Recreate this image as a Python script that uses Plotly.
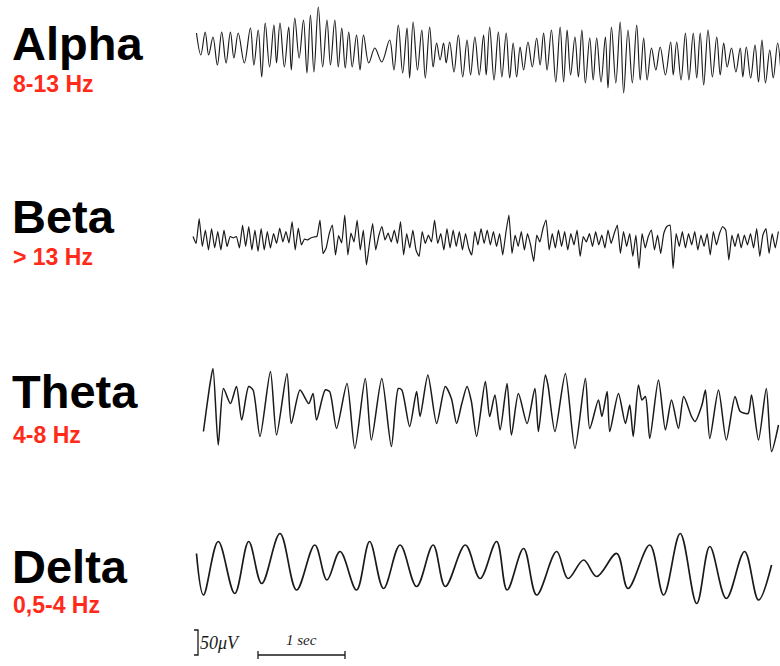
import plotly.graph_objects as go

W, H = 780, 666
X0_PX = 187          # left edge of the trace area
T0_PX = 193          # pixel where t = 0
PX_PER_SEC = 87.0
UV_PER_PX = 2.0

labels = ["Alpha", "Beta", "Theta", "Delta"]
bands = ["8-13 Hz", "> 13 Hz", "4-8 Hz", "0,5-4 Hz"]

# ---------------- Alpha (peaks / troughs, seconds & µV) ----------------
alpha_peak_t = [0.04, 0.14, 0.23, 0.33, 0.43, 0.52, 0.66, 0.75, 0.83, 0.93, 1.00, 1.10, 1.17, 1.27, 1.35, 1.44,
                1.54, 1.63, 1.71, 1.79, 1.88, 1.96, 2.09,
                2.26, 2.36, 2.46, 2.53, 2.63, 2.72, 2.80, 2.88, 2.95, 3.05, 3.15, 3.24, 3.34, 3.41, 3.51, 3.60,
                3.68, 3.76, 3.85, 3.95, 4.03, 4.12, 4.22, 4.30, 4.39, 4.47,
                4.56, 4.64, 4.74, 4.81, 4.91, 5.00, 5.10, 5.18, 5.27, 5.37, 5.49, 5.56, 5.66, 5.75, 5.83, 5.92,
                6.02, 6.10, 6.19, 6.29, 6.36, 6.46, 6.54, 6.63, 6.72]
alpha_peak_uv = [38, 40, 30, 40, 40, 38, 48, 44, 58, 54, 58, 50, 68, 64, 74, 90,
                 64, 64, 48, 40, 34, 34, 8,
                 24, 54, 48, 60, 44, 50, 18, 18, 20, 34, 24, 30, 34, 50, 40, 38,
                 18, 10, 20, 28, 38, 44, 50, 44, 30, 44,
                 28, 28, 30, 50, 60, 44, 54, 28, 8, 10, 20, 20, 38, 38, 38, 44,
                 30, 18, 8, 8, 10, 14, 24, 4, 18]
alpha_trough_t = [0.09, 0.18, 0.28, 0.38, 0.47, 0.59, 0.70, 0.79, 0.88, 0.96, 1.05, 1.13, 1.22, 1.31, 1.39, 1.49,
                  1.58, 1.67, 1.75, 1.83, 1.92, 2.02, 2.17,
                  2.31, 2.41, 2.49, 2.58, 2.67, 2.76, 2.84, 2.91, 3.00, 3.10, 3.19, 3.29, 3.37, 3.46, 3.55, 3.64,
                  3.72, 3.80, 3.90, 3.99, 4.07, 4.17, 4.26, 4.34, 4.43, 4.51,
                  4.60, 4.69, 4.77, 4.86, 4.95, 5.05, 5.14, 5.22, 5.32, 5.43, 5.52, 5.61, 5.70, 5.79, 5.87, 5.97,
                  6.06, 6.14, 6.24, 6.32, 6.41, 6.50, 6.58, 6.67, 6.76]
alpha_trough_uv = [-6, -6, -26, -22, -12, -22, -26, -50, -30, -22, -30, -36, -12, -42, -40, -30,
                   -26, -30, -32, -30, -36, -22, -20,
                   -36, -42, -52, -36, -52, -30, -16, -22, -40, -50, -46, -46, -46, -56, -50, -52,
                   -50, -36, -30, -26, -36, -60, -60, -46, -50, -62,
                   -56, -60, -72, -62, -82, -62, -56, -56, -36, -46, -46, -56, -56, -52, -66, -50,
                   -46, -30, -40, -50, -52, -60, -62, -52, -46]

# ---------------- Beta (sampled trace, µV) ----------------
beta_dt = 0.0356
beta_uv = [3, -11, 39, -17, 16, -24, 19, -20, 13, -24, 16, -17, 3, 0, 3, -20, 26, -17, 23, -24,
           16, -27, 19, -24, 13, -20, 9, -11, 20, -8, 13, -10, 33, -24, 20, -14, -2, -4, 0, 2,
           3, 36, -31, -20, 9, 26, -34, 5, -10, 46, -34, 10, -8, 36, -24, 16, -54, -10, 29, -24,
           5, 23, -4, 10, -8, 16, -11, 33, -34, 9, -20, 16, -24, -37, 13, -11, 6, -8, 36, -11,
           9, -24, 19, -20, 16, -17, 13, -24, 9, -20, -34, 13, -14, 19, -11, 16, -14, 13, -17, 9,
           -34, 10, 46, -31, 6, -17, 13, -24, 9, -14, -47, 6, -8, 19, 36, -24, 9, -20, 16, -17,
           13, -24, 9, -14, 16, -37, 3, -8, 9, -17, 13, -14, 6, -20, 16, -11, 9, 26, -31, 13,
           -17, 9, -37, 6, -61, 9, -20, 3, 16, -24, 6, -31, 9, 23, 26, -61, 9, -17, 13, -20,
           9, -14, 13, -24, 6, -17, 9, -34, 13, -14, 9, 23, 16, -44, 6, -17, 9, -20, 6, -14,
           9, -20, 19, -37, 6, 19, -31, 9, -20, 13]

# ---------------- Theta (extrema, seconds & µV) ----------------
theta_t = [0.12, 0.20, 0.23, 0.29, 0.35, 0.43, 0.50, 0.56, 0.64, 0.69, 0.77, 0.89, 0.96, 1.08, 1.13, 1.23,
           1.33, 1.38, 1.42, 1.52, 1.57, 1.65, 1.77, 1.86, 1.98, 2.05, 2.17, 2.28, 2.36, 2.40, 2.49, 2.57,
           2.61, 2.70, 2.80, 2.90, 2.97, 3.03, 3.09, 3.15, 3.20, 3.26, 3.36, 3.41, 3.47, 3.53, 3.61, 3.66,
           3.74, 3.84, 3.93, 3.97, 4.05, 4.08, 4.16, 4.28, 4.39, 4.51, 4.56, 4.66, 4.70, 4.76, 4.79, 4.89,
           4.97, 5.02, 5.06, 5.12, 5.16, 5.20, 5.25, 5.35, 5.43, 5.50, 5.58, 5.64, 5.73, 5.77, 5.85, 5.89,
           5.94, 6.04, 6.13, 6.23, 6.29, 6.38, 6.42, 6.50, 6.59, 6.65, 6.73]
theta_uv = [-43, 57, 83, -70, 43, 13, 47, -20, 47, 40, -53, 77, -50, 73, -27, 40,
            13, 33, -20, 40, 37, -37, 53, -77, 63, -60, 63, -73, 43, 40, -33, 37,
            -13, 70, -27, 47, 23, -27, 13, 47, 17, -53, 57, -13, 30, -40, 53, -50,
            33, -27, 43, -43, 70, 50, -43, 73, -77, 63, -37, 20, -13, 37, -43, 33,
            -27, 10, -53, 50, 20, 27, -57, 60, -40, 20, -37, 27, -13, -23, 10, 40,
            -57, 40, -60, 27, -3, -7, 30, -60, 43, -83, -30]

# ---------------- Delta (extrema, seconds & µV) ----------------
delta_t = [0.04, 0.12, 0.29, 0.48, 0.64, 0.79, 1.00, 1.19, 1.40, 1.54, 1.69, 1.88, 2.03, 2.19, 2.38, 2.57,
           2.76, 2.90, 3.13, 3.30, 3.49, 3.61, 3.80, 3.95, 4.18, 4.31, 4.49, 4.64, 4.87, 5.00, 5.25, 5.41,
           5.60, 5.79, 5.94, 6.13, 6.34, 6.50, 6.65]
delta_uv = [33, -50, 57, -47, 57, -27, 73, -40, 50, -20, 37, -40, 57, -37, 50, -33,
            50, -33, 50, -17, 57, -40, 43, -50, 37, -17, 20, -13, 33, -37, 50, -50,
            73, -67, 47, -57, 37, -60, 10]

# ---------------- Calibration ----------------
scale_uv = 50
scale_sec = 1

# merge alpha extrema in time order
alpha_pts = sorted(zip(alpha_peak_t + alpha_trough_t, alpha_peak_uv + alpha_trough_uv))
alpha_t = [p[0] for p in alpha_pts]
alpha_uv = [p[1] for p in alpha_pts]
beta_t = [i * beta_dt for i in range(len(beta_uv))]

INK = "#1a1a1a"
series = [
    (alpha_t, alpha_uv, "spline", 1.0, 1.15),
    (beta_t, beta_uv, "spline", 0.4, 1.2),
    (theta_t, theta_uv, "spline", 0.7, 1.5),
    (delta_t, delta_uv, "spline", 1.0, 1.7),
]
# pixel layout of each row: (baseline, top, bottom)
rows_px = [(52, 0, 115), (238, 185, 290), (410, 350, 475), (570, 515, 622)]

t_left = (X0_PX - T0_PX) / PX_PER_SEC
t_right = (W - T0_PX) / PX_PER_SEC

fig = go.Figure()
layout = dict(width=W, height=H, margin=dict(l=0, r=0, t=0, b=0),
              paper_bgcolor="white", plot_bgcolor="rgba(0,0,0,0)", showlegend=False)

def add_axes(k, base, top, bot):
    xa = "xaxis" if k == 1 else f"xaxis{k}"
    ya = "yaxis" if k == 1 else f"yaxis{k}"
    layout[xa] = dict(domain=[X0_PX / W, 1], range=[t_left, t_right], visible=False,
                      anchor="y" if k == 1 else f"y{k}", fixedrange=True)
    layout[ya] = dict(domain=[1 - bot / H, 1 - top / H],
                      range=[(base - bot) * UV_PER_PX, (base - top) * UV_PER_PX],
                      visible=False, anchor="x" if k == 1 else f"x{k}", fixedrange=True)

for k, ((t, v, shape, sm, lw), (base, top, bot)) in enumerate(zip(series, rows_px), start=1):
    add_axes(k, base, top, bot)
    line = dict(color=INK, width=lw, shape=shape)
    if shape == "spline":
        line["smoothing"] = sm
    fig.add_trace(go.Scatter(x=t, y=v, mode="lines", line=line, hoverinfo="skip",
                             xaxis="x" if k == 1 else f"x{k}", yaxis="y" if k == 1 else f"y{k}"))

# calibration row (axis 5)
add_axes(5, 655, 620, 666)
tb = (198 - T0_PX) / PX_PER_SEC
tick = 4 / PX_PER_SEC
fig.add_trace(go.Scatter(x=[tb - tick, tb, tb, tb - tick], y=[scale_uv, scale_uv, 0, 0],
                         mode="lines", line=dict(color=INK, width=1.3), hoverinfo="skip",
                         xaxis="x5", yaxis="y5"))
ts = (258 - T0_PX) / PX_PER_SEC
fig.add_trace(go.Scatter(x=[ts, ts, ts, ts + scale_sec, ts + scale_sec, ts + scale_sec],
                         y=[8, -8, 0, 0, 8, -8],
                         mode="lines", line=dict(color=INK, width=1.3), hoverinfo="skip",
                         xaxis="x5", yaxis="y5"))

ann = []
name_mid = [44, 216, 392, 566]
band_mid = [84, 257, 435, 605]
for name, band, ym, yb in zip(labels, bands, name_mid, band_mid):
    ann.append(dict(text=f"<b>{name}</b>", x=10 / W, y=1 - ym / H, xref="paper", yref="paper",
                    xanchor="left", yanchor="middle", showarrow=False,
                    font=dict(family="Liberation Sans, Arial, sans-serif", size=47, color="black")))
    ann.append(dict(text=f"<b>{band}</b>", x=11 / W, y=1 - yb / H, xref="paper", yref="paper",
                    xanchor="left", yanchor="middle", showarrow=False,
                    font=dict(family="Liberation Sans, Arial, sans-serif", size=23, color="#ff2a17")))

ann.append(dict(text=f"<i>{scale_uv}μV</i>", x=tb + 0.005, y=24, xref="x5", yref="y5",
                xanchor="left", yanchor="middle", showarrow=False,
                font=dict(family="Liberation Serif, serif", size=18, color=INK)))
ann.append(dict(text=f"<i>{scale_sec} sec</i>", x=ts + scale_sec / 2, y=30, xref="x5", yref="y5",
                xanchor="center", yanchor="middle", showarrow=False,
                font=dict(family="Liberation Serif, serif", size=15, color=INK)))
layout["annotations"] = ann
fig.update_layout(**layout)
fig.write_html("out.html")
